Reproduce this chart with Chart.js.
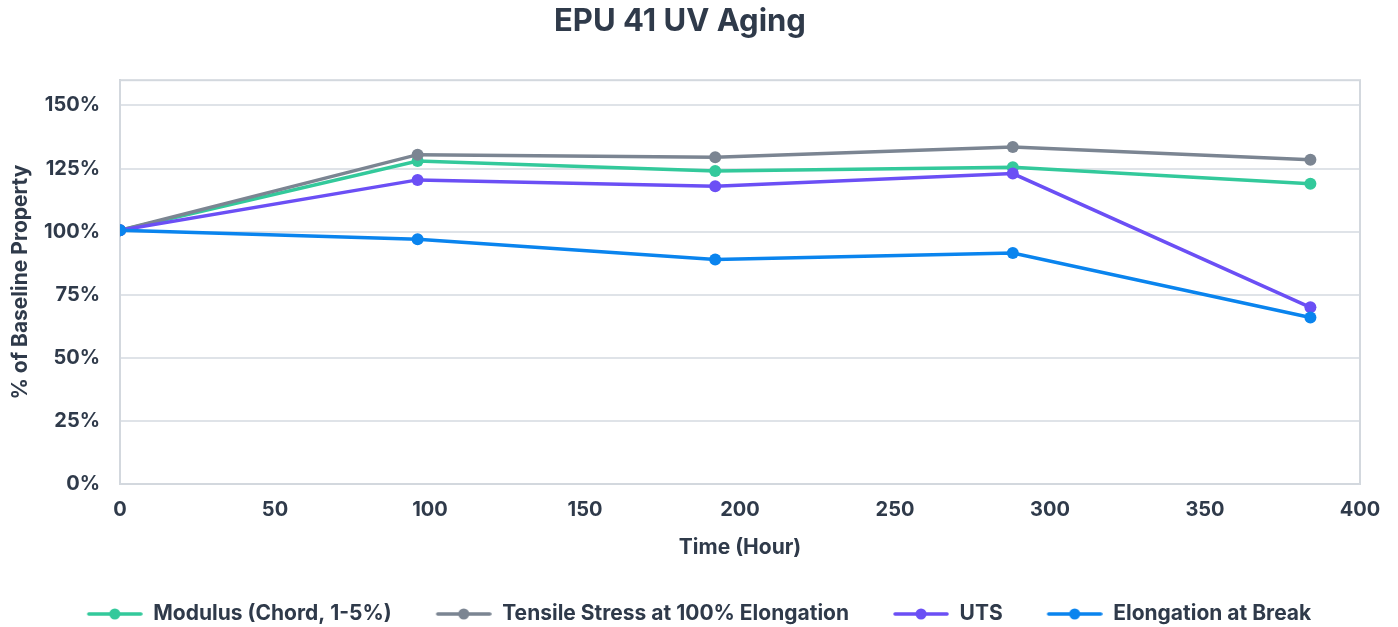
<!DOCTYPE html>
<html lang="en">
<head>
  <meta charset="UTF-8" />
  <title>EPU 41 UV Aging</title>
  <script src="https://cdn.jsdelivr.net/npm/chart.js@4.4.0/dist/chart.umd.min.js"></script>
  <style>
    html, body { margin: 0; padding: 0; background: #fff; }
    #wrap { width: 1398px; height: 627px; position: relative; }
  </style>
</head>
<body>
  <div id="wrap"><canvas id="myChart"></canvas></div>

  <script>
    // values
    const hours = [0, 96, 192, 288, 384];
    const modulus = [100.5, 128, 124, 125.5, 119];
    const tensile = [100.5, 130.5, 129.5, 133.5, 128.5];
    const uts = [100.5, 120.5, 118, 123, 70];
    const elongation = [100.5, 97, 89, 91.5, 66];
    const seriesNames = ['Modulus (Chord, 1-5%)', 'Tensile Stress at 100% Elongation', 'UTS', 'Elongation at Break'];
    const xTicks = [0, 50, 100, 150, 200, 250, 300, 350, 400];
    const yTicks = [0, 25, 50, 75, 100, 125, 150];

    const colors = ['#33c99b', '#7b8592', '#6b4ff5', '#0a84ee'];
    const textColor = '#2f3a4a';

    Chart.defaults.font.family = 'Inter';
    Chart.defaults.font.weight = 'bold';
    Chart.defaults.color = textColor;

    // legend key: blank gap on the left, then a line with a dot
    const keyGap = 38;
    function legendMark(color) {
      const c = document.createElement('canvas');
      c.width = 56 + keyGap; c.height = 12;
      const g = c.getContext('2d');
      g.strokeStyle = color; g.lineWidth = 3.5; g.lineCap = 'round';
      g.beginPath(); g.moveTo(keyGap + 2, 6); g.lineTo(keyGap + 54, 6); g.stroke();
      g.fillStyle = color;
      g.beginPath(); g.arc(keyGap + 28, 6, 5.5, 0, Math.PI * 2); g.fill();
      return c;
    }
    const marks = colors.map(legendMark);

    const plotFrame = {
      id: 'plotFrame',
      beforeDatasetsDraw(chart) {
        const { ctx, chartArea: a } = chart;
        ctx.save();
        ctx.strokeStyle = '#d3d8de';
        ctx.lineWidth = 2;
        ctx.strokeRect(a.left, a.top, a.right - a.left, a.bottom - a.top);
        ctx.restore();
      }
    };

    function series(values, i) {
      return {
        label: seriesNames[i],
        data: hours.map((h, k) => ({ x: h, y: values[k] })),
        borderColor: colors[i],
        backgroundColor: colors[i],
        pointBackgroundColor: colors[i],
        pointBorderWidth: 0,
        pointRadius: 6,
        pointHoverRadius: 6,
        borderWidth: 3.5,
        fill: false,
        tension: 0,
        order: 4 - i
      };
    }

    const ctx = document.getElementById('myChart').getContext('2d');
    const myChart = new Chart(ctx, {
      type: 'line',
      data: {
        datasets: [series(modulus, 0), series(tensile, 1), series(uts, 2), series(elongation, 3)]
      },
      options: {
        responsive: true,
        maintainAspectRatio: false,
        animation: false,
        layout: { padding: { left: 0, right: 38, top: 0, bottom: -7.5 } },
        plugins: {
          title: {
            display: true,
            text: 'EPU 41 UV Aging',
            font: { size: 31, weight: 'bold' },
            color: textColor,
            padding: { top: 3, bottom: 40 }
          },
          legend: {
            position: 'bottom',
            labels: {
              usePointStyle: true,
              pointStyleWidth: 56 + keyGap,
              padding: 6,
              font: { size: 21, weight: 'bold' },
              color: textColor,
              sort: (a, b) => a.datasetIndex - b.datasetIndex,
              generateLabels(chart) {
                const items = Chart.defaults.plugins.legend.labels.generateLabels(chart);
                items.forEach(it => { it.pointStyle = marks[it.datasetIndex]; });
                return items;
              }
            }
          },
          tooltip: { enabled: false }
        },
        scales: {
          x: {
            type: 'linear',
            min: 0,
            max: 400,
            afterBuildTicks: s => { s.ticks = xTicks.map(v => ({ value: v })); },
            afterFit: s => { s.height = 113.5; },
            grid: { display: false, drawTicks: false },
            border: { display: true, color: '#c9cfd6', width: 2 },
            ticks: { padding: 14, font: { size: 20, weight: 'bold' }, color: textColor, maxRotation: 0 },
            title: {
              display: true,
              text: 'Time (Hour)',
              font: { size: 21, weight: 'bold' },
              color: textColor,
              padding: { top: 0, bottom: 37 }
            }
          },
          y: {
            min: 0,
            max: 160,
            afterBuildTicks: s => { s.ticks = yTicks.map(v => ({ value: v })); },
            afterFit: s => { s.width = 120; },
            grid: { color: '#dfe3e8', lineWidth: 2, drawTicks: false },
            border: { display: true, color: '#c9cfd6', width: 2 },
            ticks: {
              padding: 20,
              font: { size: 20, weight: 'bold' },
              color: textColor,
              callback: v => v + '%'
            },
            title: {
              display: true,
              text: '% of Baseline Property',
              font: { size: 21, weight: 'bold' },
              color: textColor,
              padding: { top: 8, bottom: 0 }
            }
          }
        }
      },
      plugins: [plotFrame]
    });
  </script>
</body>
</html>
